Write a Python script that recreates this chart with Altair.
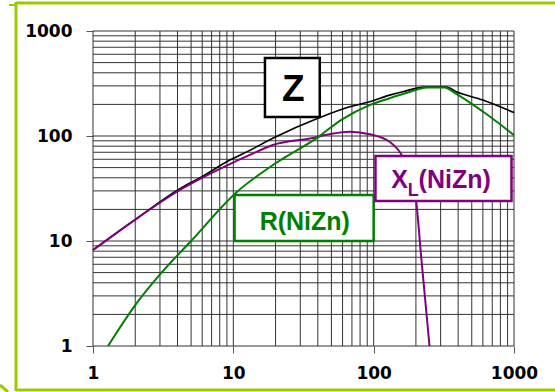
import altair as alt
import pandas as pd

# ---- data ----
z_freq = [1, 2, 4.16, 5.8, 9.44, 13.1, 19.1, 41.3, 67.5, 93.6, 130, 161, 230, 330, 388, 600, 1000]
z_val = [8.2, 16, 31.5, 40, 59, 73, 95, 150, 190, 212, 245, 264, 292, 292, 264, 220, 167]

r_freq = [1.28, 2.0, 3.0, 5.0, 10.5, 20, 39, 60, 93.6, 130, 180, 240, 320, 377, 600, 1000]
r_val = [1.0, 2.45, 4.8, 10, 29, 55, 95, 145, 197, 229, 262, 290, 290, 258, 171, 102]

xl_freq = [1, 2, 4.16, 9.44, 13.1, 19.1, 36.8, 50, 67.5, 93.6, 130, 161, 185, 201, 218, 250]
xl_val = [8.2, 16, 30.6, 54, 66, 82, 95.7, 105, 110, 104, 88, 63.5, 40, 23.7, 7.1, 1.0]

major_ticks = [1, 10, 100, 1000]
grid_vals = [1, 2, 3, 4, 5, 6, 7, 8, 9,
             10, 20, 30, 40, 50, 60, 70, 80, 90,
             100, 200, 300, 400, 500, 600, 700, 800, 900, 1000]

# label boxes (data coordinates) and texts
boxes = pd.DataFrame({
    "x": [16.8, 10.2, 103], "x2": [41.3, 100, 960],
    "y": [152, 10, 24], "y2": [553, 27.4, 64.5],
    "c": ["#000000", "#008000", "#800080"],
})

W, H = 421, 315
xs = alt.Scale(type="log", domain=[1, 1000], nice=False)
ys = alt.Scale(type="log", domain=[1, 1000], nice=False)

axis_common = dict(values=major_ticks, format="d", grid=False, domain=False,
                   tickSize=7, tickColor="#555555", tickWidth=1,
                   labelFont="DejaVu Sans", labelFontWeight="bold", labelFontSize=17,
                   labelColor="#000000", title=None)
xaxis = alt.Axis(**axis_common, labelFlush=False, labelPadding=12)
yaxis = alt.Axis(**axis_common, labelPadding=14)


def X(f):
    return alt.X(f, type="quantitative", scale=xs, axis=xaxis)


def Y(f):
    return alt.Y(f, type="quantitative", scale=ys, axis=yaxis)


gdf = pd.DataFrame({"g": grid_vals})
vgrid = alt.Chart(gdf).mark_rule(color="#333333", strokeWidth=1).encode(x=X("g"))
hgrid = alt.Chart(gdf).mark_rule(color="#333333", strokeWidth=1).encode(y=Y("g"))


def line(fr, vals, color, w):
    df = pd.DataFrame({"f": fr, "v": vals})
    return alt.Chart(df).mark_line(color=color, strokeWidth=w, strokeJoin="round",
                                   interpolate="monotone").encode(
        x=X("f"), y=Y("v"))


z_line = line(z_freq, z_val, "#000000", 1.6)
xl_line = line(xl_freq, xl_val, "#800080", 2)
r_line = line(r_freq, r_val, "#008000", 2)

box_layer = alt.Chart(boxes).mark_rect(fill="white", strokeWidth=2.5).encode(
    x=X("x"), x2="x2", y=Y("y"), y2="y2",
    stroke=alt.Stroke("c:N", scale=None))

txt = pd.DataFrame({
    "x": [26.7, 32.3, 133.6, 174.6, 209],
    "y": [217, 12.7, 31.8, 26.8, 31.8],
    "t": ["Z", "R(NiZn)", "X", "L", "(NiZn)"],
    "c": ["#000000", "#008000", "#800080", "#800080", "#800080"],
    "s": [37, 25, 25, 18, 25],
    "a": ["center", "center", "left", "left", "left"],
})


def text_layer(i):
    row = txt.iloc[[i]]
    return alt.Chart(row).mark_text(
        font="Liberation Sans", fontWeight="bold", fontSize=float(row["s"].iloc[0]),
        align=row["a"].iloc[0], baseline="alphabetic", color=row["c"].iloc[0]
    ).encode(x=X("x"), y=Y("y"), text="t:N")


texts = [text_layer(i) for i in range(len(txt))]

# decorative frame (pixel positions relative to plot origin)
fc = "#99cc00"
frame = [
    alt.Chart(pd.DataFrame({"k": [0]})).mark_rule(color=fc, strokeWidth=3).encode(
        x=alt.value(-77), x2=alt.value(470), y=alt.value(-28)),
    alt.Chart(pd.DataFrame({"k": [0]})).mark_rule(color=fc, strokeWidth=3).encode(
        x=alt.value(-77), y=alt.value(-29), y2=alt.value(360)),
    alt.Chart(pd.DataFrame({"k": [0]})).mark_rule(color=fc, strokeWidth=3).encode(
        x=alt.value(-77), x2=alt.value(470), y=alt.value(359)),
    alt.Chart(pd.DataFrame({"k": [0]})).mark_rule(color=fc, strokeWidth=2).encode(
        x=alt.value(-84), x2=alt.value(-77), y=alt.value(-26)),
    alt.Chart(pd.DataFrame({"k": [0]})).mark_rule(color=fc, strokeWidth=3).encode(
        x=alt.value(-93), x2=alt.value(-85), y=alt.value(354), y2=alt.value(361)),
]

chart = alt.layer(
    vgrid, hgrid, z_line, xl_line, r_line, box_layer, *texts, *frame
).properties(
    width=W, height=H,
    autosize=alt.AutoSizeParams(type="none"),
    padding={"left": 93, "top": 31, "right": 41, "bottom": 46},
    background="white",
).configure_view(stroke=None)

chart.save("out.html", embed_options={"renderer": "svg", "actions": False})
